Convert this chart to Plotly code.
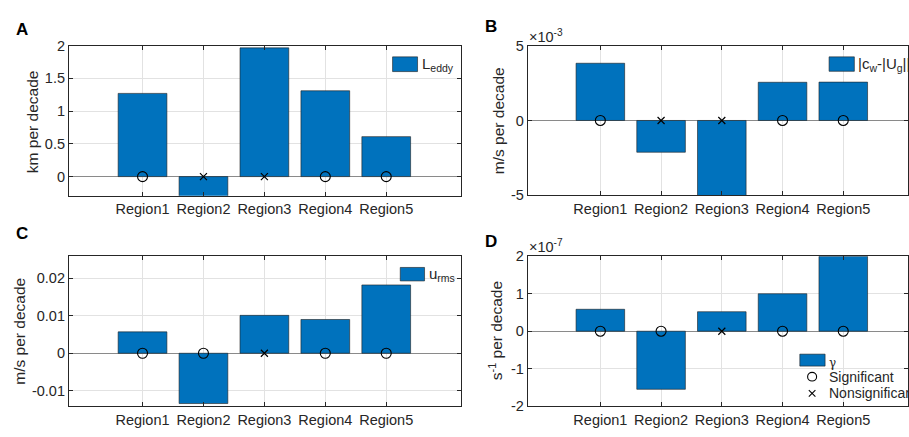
import plotly.graph_objects as go

# ---------------- data ----------------
regions = ["Region1", "Region2", "Region3", "Region4", "Region5"]

l_eddy = [1.27, -0.45, 1.965, 1.31, 0.61]          # km per decade
l_eddy_sig = [True, False, False, True, True]

cw_ug = [3.82e-3, -2.12e-3, -5.6e-3, 2.55e-3, 2.56e-3]  # m/s per decade
cw_ug_sig = [True, False, False, True, True]

u_rms = [0.0057, -0.0134, 0.0101, 0.0090, 0.0182]  # m/s per decade
u_rms_sig = [True, True, False, True, True]

gamma = [0.585e-7, -1.55e-7, 0.52e-7, 1.0e-7, 2.0e-7]  # s^-1 per decade
gamma_sig = [True, True, False, True, True]

yt_a = [0, 0.5, 1, 1.5, 2]
yl_a = ["0", "0.5", "1", "1.5", "2"]
yt_b = [-5e-3, 0, 5e-3]
yl_b = ["-5", "0", "5"]
yt_c = [-0.01, 0, 0.01, 0.02]
yl_c = ["-0.01", "0", "0.01", "0.02"]
yt_d = [-2e-7, -1e-7, 0, 1e-7, 2e-7]
yl_d = ["-2", "-1", "0", "1", "2"]

# ---------------- layout helpers ----------------
W, H = 909, 437
def PX(x):
    return x / W
def PY(y):
    return 1 - y / H

FONT = "Liberation Sans, Arial, Helvetica, sans-serif"
INK = "#262626"
BAR = "#0072BD"
TICK = 14.5

panels = [
    dict(vals=l_eddy, sig=l_eddy_sig, yt=yt_a, yl=yl_a, yr=[-0.294, 2.0],
         xd=[69, 461.5], yd=[39, 195], xr=[-1.208, 5.227]),
    dict(vals=cw_ug, sig=cw_ug_sig, yt=yt_b, yl=yl_b, yr=[-5e-3, 5e-3],
         xd=[528.3, 909], yd=[39, 194.5], xr=[-1.196, 5.066]),
    dict(vals=u_rms, sig=u_rms_sig, yt=yt_c, yl=yl_c, yr=[-0.0141, 0.0259],
         xd=[69, 461.5], yd=[257.5, 413.3], xr=[-1.208, 5.227]),
    dict(vals=gamma, sig=gamma_sig, yt=yt_d, yl=yl_d, yr=[-2e-7, 2e-7],
         xd=[528.3, 909], yd=[257.7, 413.3], xr=[-1.196, 5.066]),
]

fig = go.Figure()
layout = dict(
    width=W, height=H, margin=dict(l=0, r=0, t=0, b=0),
    paper_bgcolor="white", plot_bgcolor="white", showlegend=False,
    font=dict(family=FONT, size=TICK, color=INK),
)

for i, p in enumerate(panels, start=1):
    xa = "x" if i == 1 else f"x{i}"
    ya = "y" if i == 1 else f"y{i}"
    fig.add_trace(go.Bar(
        x=regions, y=p["vals"], xaxis=xa, yaxis=ya, width=0.8,
        marker=dict(color=BAR, line=dict(color="#1f1f1f", width=0.6)),
    ))
    sig_x = [r for r, s in zip(regions, p["sig"]) if s]
    non_x = [r for r, s in zip(regions, p["sig"]) if not s]
    fig.add_trace(go.Scatter(
        x=sig_x, y=[0] * len(sig_x), xaxis=xa, yaxis=ya, mode="markers",
        marker=dict(symbol="circle-open", size=10, color="black",
                    line=dict(width=1.1, color="black")),
        cliponaxis=False,
    ))
    fig.add_trace(go.Scatter(
        x=non_x, y=[0] * len(non_x), xaxis=xa, yaxis=ya, mode="markers",
        marker=dict(symbol="x-thin-open", size=7, color="black",
                    line=dict(width=1.2, color="black")),
        cliponaxis=False,
    ))
    xkey = "xaxis" if i == 1 else f"xaxis{i}"
    ykey = "yaxis" if i == 1 else f"yaxis{i}"
    layout[xkey] = dict(
        domain=[PX(p["xd"][0]), min(1.0, PX(p["xd"][1]))],
        anchor=ya, type="category", range=p["xr"],
        showline=True, linecolor=INK, linewidth=1, mirror="ticks",
        ticks="inside", ticklen=4, tickcolor=INK,
        showgrid=True, gridcolor="#e2e2e2", gridwidth=1, zeroline=False,
        tickfont=dict(family=FONT, size=TICK, color=INK),
    )
    layout[ykey] = dict(
        domain=[PY(p["yd"][1]), PY(p["yd"][0])],
        anchor=xa, range=p["yr"],
        tickvals=p["yt"], ticktext=p["yl"],
        showline=True, linecolor=INK, linewidth=1, mirror="ticks",
        ticks="inside", ticklen=4, tickcolor=INK,
        showgrid=True, gridcolor="#e2e2e2", gridwidth=1,
        zeroline=True, zerolinecolor="#8a8a8a", zerolinewidth=1,
        tickfont=dict(family=FONT, size=TICK, color=INK),
    )

fig.update_layout(**layout)

ann = []
def text(x, y, s, size=14, xanchor="center", yanchor="middle", angle=0, bold=False):
    ann.append(dict(x=PX(x), y=PY(y), xref="paper", yref="paper", text=s,
                    showarrow=False, xanchor=xanchor, yanchor=yanchor,
                    textangle=angle,
                    font=dict(family=FONT, size=size, color="black" if bold else INK)))

# panel letters
text(22, 22, "<b>A</b>", size=17, bold=True)
text(492, 19, "<b>B</b>", size=17, bold=True)
text(22, 234, "<b>C</b>", size=17, bold=True)
text(492, 242, "<b>D</b>", size=17, bold=True)

# y-axis titles
text(32.5, 118, "km per decade", size=15.5, angle=-90)
text(499, 117, "m/s per decade", size=15.5, angle=-90)
text(20, 335, "m/s per decade", size=15.5, angle=-90)
text(496, 335, "s<sup>-1</sup> per decade", size=15.5, angle=-90)

# exponent labels
text(528, 29, "\u00d710<sup>-3</sup>", size=14.5, xanchor="left")
text(528, 247, "\u00d710<sup>-7</sup>", size=14.5, xanchor="left")

# legends
shapes = []
def patch(x0, x1, y0, y1):
    shapes.append(dict(type="rect", xref="paper", yref="paper",
                       x0=PX(x0), x1=PX(x1), y0=PY(y1), y1=PY(y0),
                       fillcolor=BAR, line=dict(color="#1f1f1f", width=0.6)))

patch(393, 418, 50.7, 66)
text(420, 59, "L<sub>eddy</sub>", size=15, xanchor="left")
patch(830, 855.3, 50.7, 65.7)
text(857, 59, "|c<sub>w</sub>-|U<sub>g</sub>||", size=15, xanchor="left")
patch(400.7, 425, 269.3, 283.3)
text(427, 277, "u<sub>rms</sub>", size=15, xanchor="left")
patch(800.7, 826, 359.3, 371.7)
ann.append(dict(x=PX(827.5), y=PY(369), xref="paper", yref="paper", text="\u03b3",
                showarrow=False, xanchor="left", yanchor="middle",
                font=dict(family="DejaVu Serif, serif", size=12, color=INK)))
# legend markers
shapes.append(dict(type="circle", xref="paper", yref="paper",
                   x0=PX(808.5), x1=PX(817.5), y0=PY(387.2), y1=PY(378.2),
                   line=dict(color="black", width=1.1)))
shapes.append(dict(type="line", xref="paper", yref="paper",
                   x0=PX(809.7), x1=PX(816.3), y0=PY(396.7), y1=PY(403.3),
                   line=dict(color="black", width=1.1)))
shapes.append(dict(type="line", xref="paper", yref="paper",
                   x0=PX(809.7), x1=PX(816.3), y0=PY(403.3), y1=PY(396.7),
                   line=dict(color="black", width=1.1)))
text(828, 382.7, "Significant", size=14, xanchor="left")
text(828, 400, "Nonsignificant", size=14, xanchor="left")

fig.update_layout(annotations=ann, shapes=shapes)
fig.write_html("out.html")
